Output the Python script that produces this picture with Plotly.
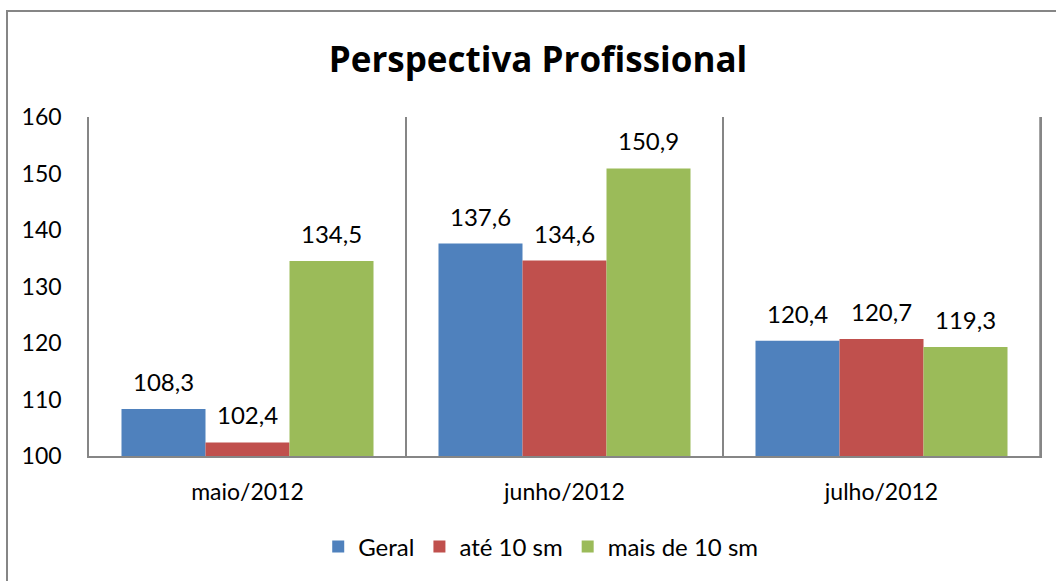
import plotly.graph_objects as go

categories = ["maio/2012", "junho/2012", "julho/2012"]
series_names = ["Geral", "até 10 sm", "mais de 10 sm"]
geral = [108.3, 137.6, 120.4]
ate10 = [102.4, 134.6, 120.7]
mais10 = [134.5, 150.9, 119.3]
series_values = [geral, ate10, mais10]
colors = ["#4F81BD", "#C0504D", "#9BBB59"]
y_ticks = [100, 110, 120, 130, 140, 150, 160]

FONT = "Lato"
W, H = 1056, 581
ml, mr, mt, mb = 89, 16, 117, 125
bargap = 0.205
plot_w = W - ml - mr
plot_h = H - mt - mb

fig = go.Figure()
for name, vals, col in zip(series_names, series_values, colors):
    fig.add_trace(go.Bar(x=categories, y=vals, name=name, marker=dict(color=col, line=dict(width=0)),
                         hoverinfo="skip"))

# data labels above bars (positions derived from axis geometry)
bar_px = plot_w / len(categories) * (1 - bargap) / len(series_names)
annotations = []
for j, vals in enumerate(series_values):
    for c, v in zip(categories, vals):
        annotations.append(dict(x=c, y=v, xref="x", yref="y", text=f"{v:.1f}".replace(".", ","),
                                showarrow=False, yanchor="bottom", yshift=11,
                                xshift=(j - (len(series_names) - 1) / 2) * bar_px,
                                font=dict(family=FONT, size=24, color="#000000")))

fig.update_layout(
    width=W, height=H,
    margin=dict(l=ml, r=mr, t=mt, b=mb, autoexpand=False),
    paper_bgcolor="white", plot_bgcolor="white",
    barmode="group", bargap=bargap, bargroupgap=0,
    font=dict(family=FONT, size=24, color="#000000"),
    title=dict(text="<b>Perspectiva Profissional</b>", x=538 / W, xref="container", xanchor="center",
               y=1 - 60 / H, yref="container", yanchor="middle",
               font=dict(family="Open Sans", size=35, color="#000000")),
    showlegend=True,
    legend=dict(orientation="h", x=0.475, xanchor="center", y=-0.268, yanchor="middle",
                font=dict(family=FONT, size=24), itemwidth=30, tracegroupgap=0, traceorder="normal"),
    annotations=annotations,
    shapes=[dict(type="rect", xref="paper", yref="paper",
                 x0=(7 - ml) / plot_w, x1=(1062 - ml) / plot_w,
                 y0=-(590 - mt - plot_h) / plot_h, y1=(H - mb - 11) / plot_h,
                 line=dict(color="#868686", width=2), fillcolor="rgba(0,0,0,0)", layer="above"),
            dict(type="line", xref="paper", yref="paper", x0=1, x1=1, y0=0, y1=1,
                 line=dict(color="#868686", width=1.5), layer="above")],
)
fig.update_xaxes(showline=True, linecolor="#868686", linewidth=1.5, tickson="boundaries",
                 showgrid=True, gridcolor="#868686", gridwidth=1.5, ticks="",
                 ticklabelstandoff=15, tickfont=dict(family=FONT, size=23))
fig.update_yaxes(range=[100, 160], tickvals=y_ticks, ticktext=[str(t) for t in y_ticks],
                 showline=True, mirror=True, linecolor="#868686", linewidth=1.5,
                 showgrid=False, zeroline=False, ticks="", ticklabelstandoff=21,
                 tickfont=dict(family=FONT, size=23))

fig.write_html("out.html", config={"displayModeBar": False},
               post_script="document.body.style.margin='0';")
